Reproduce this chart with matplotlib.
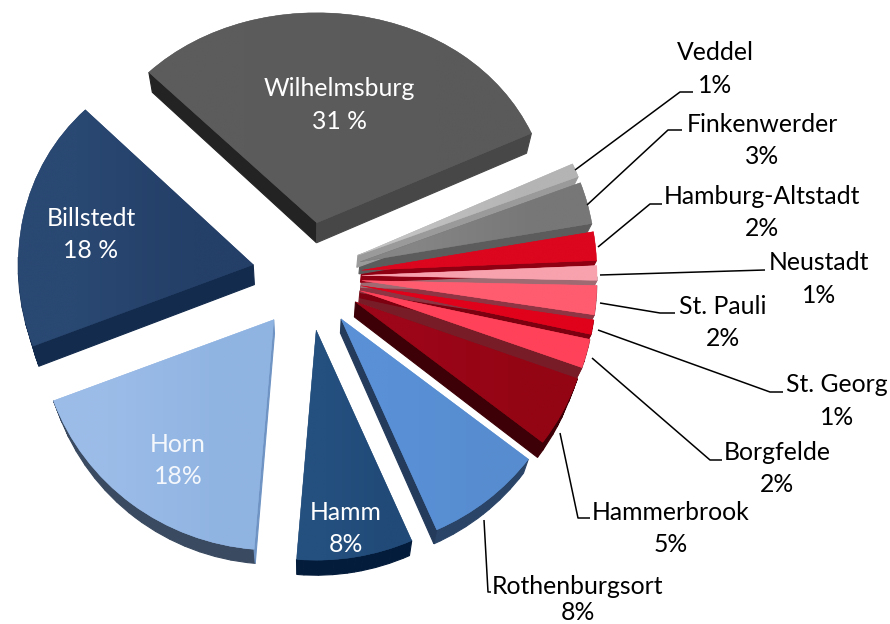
import numpy as np
import matplotlib
matplotlib.use("Agg")
import matplotlib.pyplot as plt
from matplotlib.colors import to_rgb

names = ['Wilhelmsburg', 'Billstedt', 'Horn', 'Hamm', 'Rothenburgsort', 'Hammerbrook', 'Borgfelde',
         'St. Georg', 'St. Pauli', 'Neustadt', 'Hamburg-Altstadt', 'Finkenwerder', 'Veddel']
shares = [31, 18, 18, 8, 8, 5, 2, 1, 2, 1, 2, 3, 1]
share_text = ['31 %', '18 %', '18%', '8%', '8%', '5%', '2%', '1%', '2%', '1%', '2%', '3%', '1%']

face_left = ['#5c5c5c', '#294872', '#9cbce8', '#24507f', '#5a90d6', '#9c0618', '#ff4259',
             '#e0021a', '#ff5c70', '#f8a2ae', '#dc061e', '#858585', '#c2c2c2']
face_right = ['#5a5a5a', '#243f68', '#90b4e2', '#214a78', '#578dd0', '#940514', '#ff4259',
              '#e0021a', '#ff5c70', '#f8a2ae', '#dc061e', '#777777', '#b4b4b4']
wall_left = ['#232323', '#132b4d', '#3a4a60', '#041c3b', '#243b5c', '#3d0006', '#781c28',
             '#7c0010', '#8f3442', '#a06a72', '#8f0012', '#5c5c5c', '#9a9a9a']
wall_right = ['#474747', '#132b4d', '#6f94c4', '#041c3b', '#2a4468', '#3d0006', '#781c28',
              '#7c0010', '#8f3442', '#a06a72', '#8f0012', '#5c5c5c', '#9a9a9a']
wall_depth = [20, 20, 14, 15, 14, 15, 12, 12, 12, 12, 12, 12, 12]

# label centres, first and second line, in picture pixels
label_x = [339, 91, 178, 346, 578, 671, 777, 837, 723, 819, 762, 762, 715]
label_y = [89, 218, 444, 512, 586, 512, 452, 385, 306, 263, 196, 124, 53]
label_white = [True, True, True, True, False, False, False, False, False, False, False, False, False]

leaders = [
    [(484, 520), (488, 592), (491, 592)],
    [(560, 433), (578, 518), (590, 518)],
    [(592, 358), (710, 460), (722, 460)],
    [(598, 330), (770, 392), (783, 392)],
    [(600, 303), (660, 313), (675, 313)],
    [(600, 275), (765, 270)],
    [(598, 247), (650, 204), (662, 204)],
    [(587, 205), (668, 130), (682, 130)],
    [(575, 170), (680, 92), (693, 92)],
]

W, H = 890, 624
cx, cy = 307, H - 276


def tilt(pts):
    # far side of the pie looks a bit shorter, near side only slightly
    pts = pts.copy()
    up = np.maximum(pts[:, 1] - cy, 0)
    down = np.maximum(cy - pts[:, 1], 0)
    pts[:, 1] += -0.00031 * up ** 2 + 0.00006 * down ** 2
    return pts


plt.rcParams['font.family'] = ['Lato', 'DejaVu Sans']
fig = plt.figure(figsize=(8.9, 6.24), dpi=100)
ax = fig.add_axes([0, 0, 1, 1])

wedges, _ = ax.pie(shares, explode=[55] * len(shares), radius=235, center=(cx, cy),
                   startangle=24, counterclock=True, normalize=True)

polys = []
for w in wedges:
    path = w.get_patch_transform().transform_path(w.get_path())
    polys.append(tilt(path.to_polygons()[0]))
    w.set_visible(False)

# walls first, tops go over them. lower edge leans towards the pie centre
for i, pts in enumerate(polys):
    x, y = pts[:, 0], pts[:, 1]
    area = np.sum(x[:-1] * y[1:] - x[1:] * y[:-1])
    sign = 1 if area > 0 else -1
    for a, b in zip(pts[:-1], pts[1:]):
        nx, ny = sign * (b[1] - a[1]), -sign * (b[0] - a[0])
        if ny >= 0:
            continue
        col = wall_left[i] if nx < 0 else wall_right[i]
        d = wall_depth[i]
        ax_low, bx_low = a[0] - 0.022 * (a[0] - cx), b[0] - 0.022 * (b[0] - cx)
        ax.fill([a[0], b[0], bx_low, ax_low], [a[1], b[1], b[1] - d, a[1] - d],
                color=col, lw=0.8, zorder=2)

for i, pts in enumerate(polys):
    poly = ax.fill(pts[:, 0], pts[:, 1], color=face_right[i], lw=0.3, zorder=3 + i * 0.01)[0]
    grad = np.array([[to_rgb(face_left[i]), to_rgb(face_right[i])]])
    im = ax.imshow(grad, extent=(pts[:, 0].min(), pts[:, 0].max(), pts[:, 1].min(), pts[:, 1].max()),
                   aspect='auto', interpolation='bilinear', zorder=3 + i * 0.01)
    im.set_clip_path(poly)

for line in leaders:
    xs = [p[0] for p in line]
    ys = [H - p[1] for p in line]
    ax.plot(xs, ys, color='black', lw=1.1, zorder=5, solid_capstyle='butt')

for i in range(len(names)):
    col = 'white' if label_white[i] else 'black'
    if names[i] == 'Horn':
        col = '#f4f7fc'
    y2 = min(label_y[i] + 32.5, 612)
    ax.text(label_x[i], H - label_y[i], names[i], color=col, fontsize=17.8, ha='center', va='center', zorder=6)
    ax.text(label_x[i], H - y2, share_text[i], color=col, fontsize=17.8, ha='center', va='center', zorder=6)

ax.set_xlim(0, W)
ax.set_ylim(0, H)
ax.set_aspect('auto')
ax.axis('off')
fig.savefig('out.png', dpi=100, facecolor='white')
